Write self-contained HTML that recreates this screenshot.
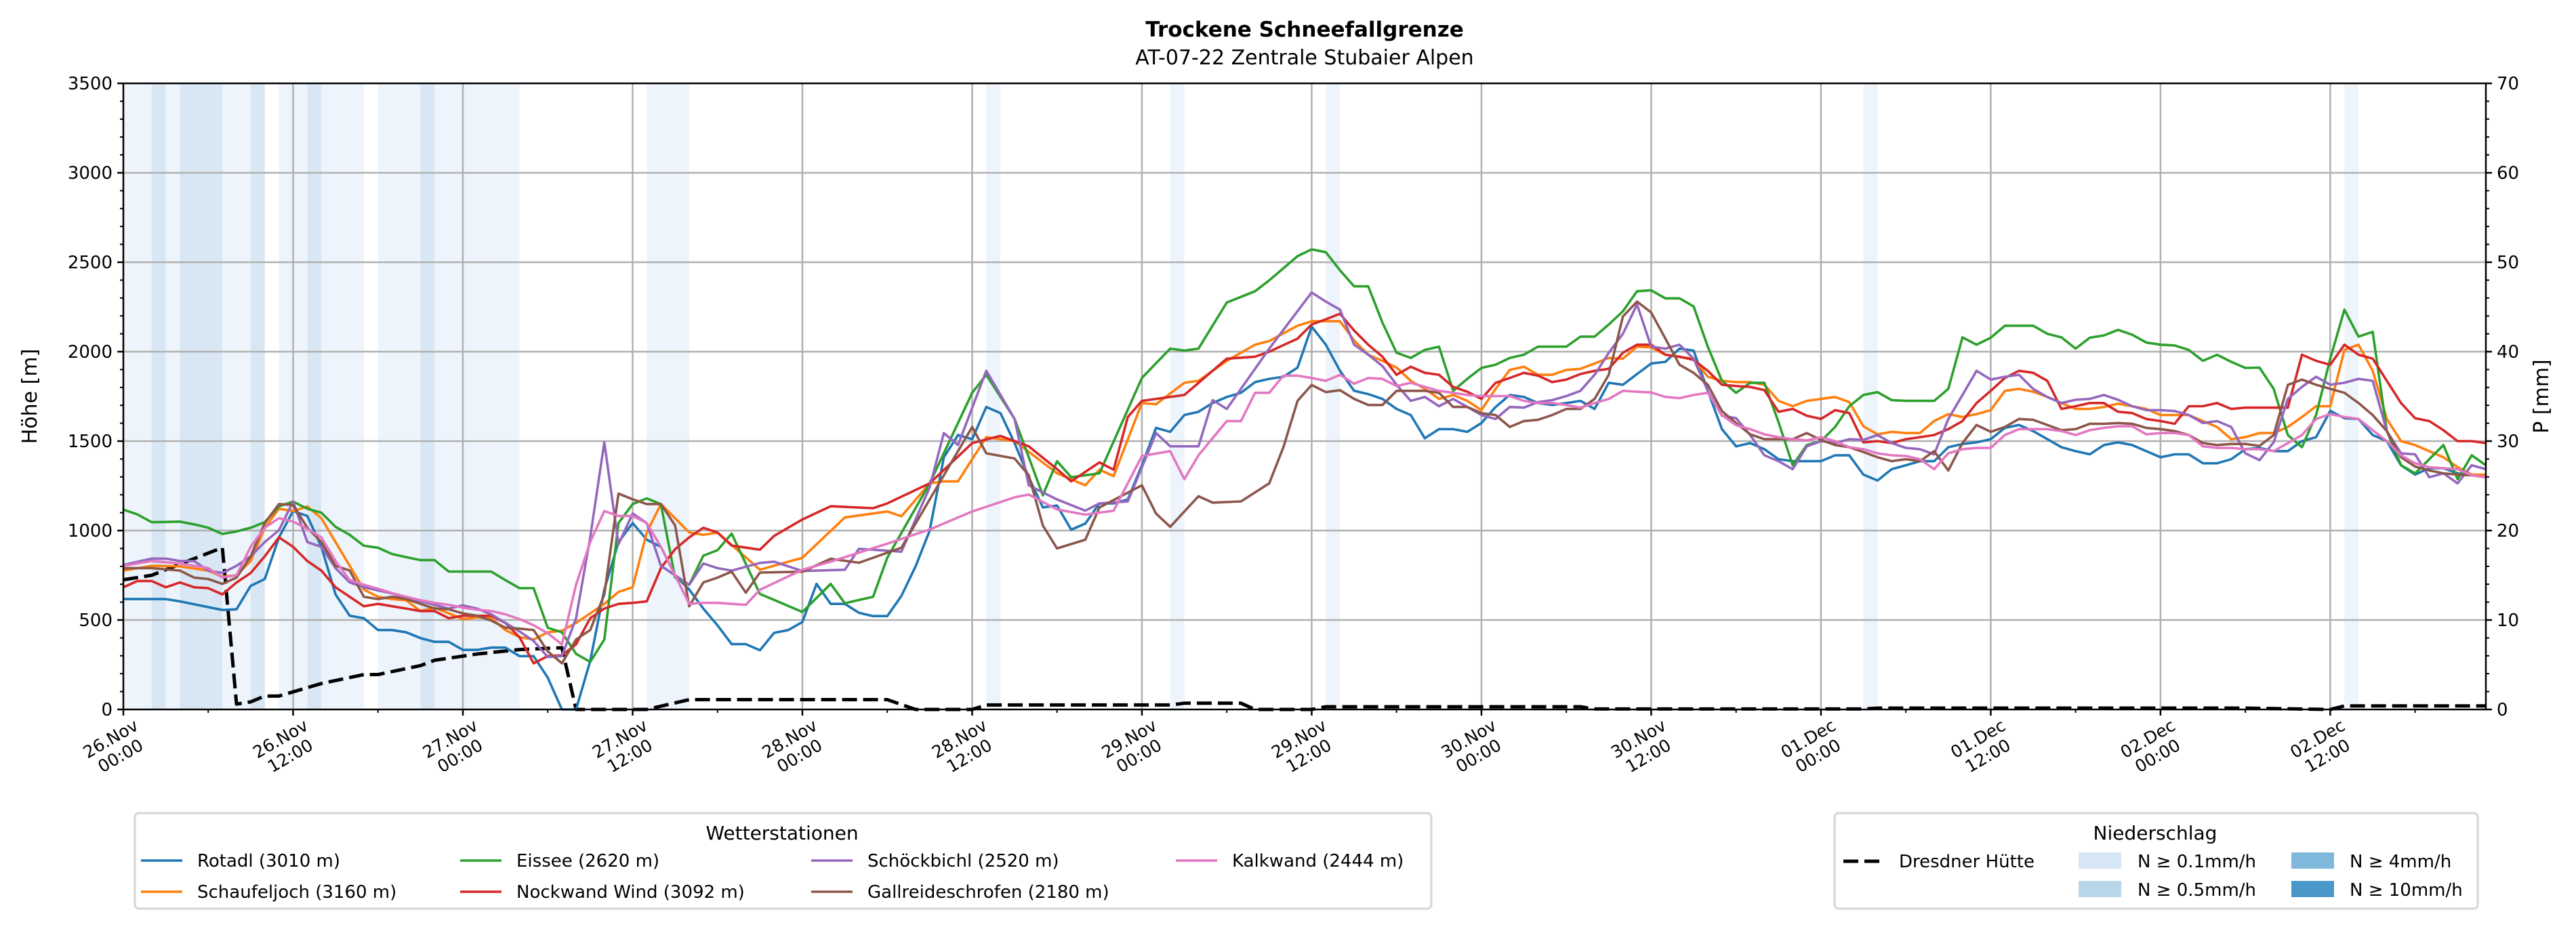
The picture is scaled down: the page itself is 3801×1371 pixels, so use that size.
<!DOCTYPE html>
<html><head><meta charset="utf-8"><style>
html,body{margin:0;padding:0;background:#fff;}
svg{display:block;font-family:"DejaVu Sans","Liberation Sans",sans-serif;}
</style></head><body>
<svg id="chart" width="3801" height="1371" viewBox="0 0 3801 1371" xmlns="http://www.w3.org/2000/svg">
<rect width="3801" height="1371" fill="#fff"/>
<g id="bands"></g>
<g id="grid"></g>
<g id="series"></g>
<g id="axes"></g>
<text x="1925" y="54" text-anchor="middle" font-size="31" font-weight="bold">Trockene Schneefallgrenze</text>
<text x="1925" y="95" text-anchor="middle" font-size="30">AT-07-22 Zentrale Stubaier Alpen</text>
<text transform="translate(54,585) rotate(-90)" text-anchor="middle" font-size="30">Höhe [m]</text>
<text transform="translate(3760,585) rotate(-90)" text-anchor="middle" font-size="30">P [mm]</text>
<g>
<rect x="199" y="1200" width="1913" height="141" rx="6" fill="#fff" stroke="#d5d5d5" stroke-width="3"/>
<text x="1154" y="1239" text-anchor="middle" font-size="28">Wetterstationen</text>
</g>
<g>
<rect x="2707" y="1200" width="949" height="141" rx="6" fill="#fff" stroke="#d5d5d5" stroke-width="3"/>
<text x="3180" y="1239" text-anchor="middle" font-size="28">Niederschlag</text>
<line x1="2720" y1="1271" x2="2780" y2="1271" stroke="#000" stroke-width="5" stroke-dasharray="22,9"/>
<text x="2802" y="1280" font-size="26">Dresdner Hütte</text>
<rect x="3067" y="1258" width="63" height="24" fill="#d6e6f4"/>
<text x="3154" y="1280" font-size="26">N ≥ 0.1mm/h</text>
<rect x="3067" y="1300" width="63" height="24" fill="#b9d5ea"/>
<text x="3154" y="1322" font-size="26">N ≥ 0.5mm/h</text>
<rect x="3381" y="1258" width="63" height="24" fill="#7fb8da"/>
<text x="3467" y="1280" font-size="26">N ≥ 4mm/h</text>
<rect x="3381" y="1300" width="63" height="24" fill="#4a97c9"/>
<text x="3467" y="1322" font-size="26">N ≥ 10mm/h</text>
</g>
<g id="legend"></g>
</svg>
<script>
const n=null;
const dayLabels=["26.Nov","26.Nov","27.Nov","27.Nov","28.Nov","28.Nov","29.Nov","29.Nov","30.Nov","30.Nov","01.Dec","01.Dec","02.Dec","02.Dec"];
const timeLabels=["00:00","12:00","00:00","12:00","00:00","12:00","00:00","12:00","00:00","12:00","00:00","12:00","00:00","12:00"];
const yTicks=[0,500,1000,1500,2000,2500,3000,3500];
const y2Ticks=[0,10,20,30,40,50,60,70];
const stationNames=["Rotadl (3010 m)","Schaufeljoch (3160 m)","Eissee (2620 m)","Nockwand Wind (3092 m)","Schöckbichl (2520 m)","Gallreideschrofen (2180 m)","Kalkwand (2444 m)"];
const stationColors=["#1f77b4","#ff7f0e","#2ca02c","#d62728","#9467bd","#8c564b","#e377c2"];
const precipHours=[0,1,2,3,4,5,6,7,8,9,11,12,13,14,15,16,18,19,20,21,22,23,24,25,26,27,37,38,39,61,74,85,123,157];
const precipValues=[0.2,0.2,0.7,0.2,0.7,0.7,0.7,0.2,0.2,0.7,0.2,0.2,0.7,0.2,0.2,0.2,0.2,0.2,0.2,0.7,0.2,0.2,0.2,0.2,0.2,0.2,0.2,0.2,0.2,0.2,0.2,0.2,0.2,0.2];
const dresdenHours=[0,2,7,8,9,10,11,14,17,18,21,22,25,28,31,32,37,40,54,56,60,61,74,75,79,80,84,85,103,104,123,124,150,156,157,167];
const dresdenP=[14.5,15,18.1,0.6,0.85,1.5,1.5,2.9,3.9,3.9,4.9,5.5,6.2,6.7,6.9,0,0,1.1,1.1,0,0,0.5,0.5,0.7,0.7,0,0,0.3,0.3,0.05,0.05,0.15,0.15,0,0.4,0.4];
const rotadl=[617,617,617,617,604,n,n,556,560,691,729,962,1109,1082,909,643,524,510,444,444,431,399,378,378,333,333,346,346,298,298,178,0,0,271,670,936,1042,949,909,750,670,564,470,
365,365,331,428,444,489,702,590,590,540,522,522,635,800,1000,1410,1534,1511,1691,1657,1489,1298,1129,1140,1005,1039,1152,1152,1174,1365,1574,1552,1646,1664,1713,1747,1770,1830,1848,1860,1911,
2140,2039,1893,1781,1763,1736,1680,1646,1516,1567,1567,1552,1601,1691,1758,1747,1713,1702,1713,1725,1680,1826,1815,1875,1934,1943,2017,2006,1781,1567,1471,1489,1455,1399,1388,1388,1388,1421,1421,1313,1280,1343,
1365,1388,1388,1466,1484,1493,1511,1574,1590,1556,1511,1466,1444,1426,1478,1493,1478,1444,1410,1426,1426,1376,1376,1399,1455,1462,1444,1444,1500,1522,1669,1628,1624,1534,1500,1365,1313,1349,1349,1320,1309,1298];
const schaufeljoch=[776,n,803,n,800,n,776,742,750,830,1016,1122,1109,1135,1069,936,803,670,630,617,610,550,569,537,505,515,510,444,404,391,431,440,484,537,590,657,683,989,1148,1069,989,976,989,
n,n,781,n,n,848,n,n,1073,n,n,1107,1080,n,1264,1275,1275,n,1522,n,1500,n,n,1320,n,1253,1340,1304,n,1713,1706,n,1826,1837,n,1949,n,2039,2060,n,2145,
2170,2170,2170,2062,1983,1949,1911,1837,1792,1736,1758,1725,1673,1792,1898,1916,1871,1871,1898,1904,1934,1965,1961,2028,2024,1983,1970,1961,1860,1837,1830,1830,1815,1725,1695,1725,1736,1747,1718,1583,1538,1552,
1545,1545,1612,1651,1635,1651,1673,1781,1792,1776,1747,1713,1680,1680,1691,1709,1695,1680,1646,1646,1646,1612,1579,1511,1522,1545,1545,1579,1635,1695,1695,2010,2039,1893,1624,1500,1478,1444,1410,1354,1313,1313];
const eissee=[1117,1090,1047,1048,1050,1035,1016,981,995,1016,1047,1135,1162,1122,1100,1021,976,915,904,869,851,835,835,771,771,771,771,723,678,678,457,431,311,266,391,1042,1148,1180,1148,737,697,860,890,
983,n,646,n,n,545,n,702,594,n,630,848,n,n,1264,n,n,1770,1871,n,1624,n,1197,1388,1298,n,1320,n,n,1853,n,2017,2006,2017,n,2275,n,2338,2399,n,2534,
2572,2556,2455,2365,2365,2163,1994,1965,2010,2028,1781,1848,1909,1927,1965,1983,2028,2028,2028,2084,2084,2152,2226,2338,2343,2298,2298,2253,2028,1837,1770,1826,1826,1606,1365,1478,1500,1579,1695,1758,1774,1729,
1725,1725,1725,1792,2080,2039,2078,2145,2145,2145,2100,2080,2017,2078,2091,2122,2095,2051,2039,2035,2010,1949,1983,1943,1909,1911,1792,1534,1466,1646,1961,2235,2084,2111,1556,1365,1320,1399,1478,1287,1421,1365];
const nockwand=[683,718,718,683,710,683,678,643,710,763,856,962,909,830,776,683,630,577,590,577,564,550,550,510,524,524,524,484,404,258,298,303,364,510,564,590,596,604,790,896,962,1016,989,
916,n,893,970,n,1062,n,1136,n,n,1125,1152,n,n,1264,n,n,1489,n,1529,n,1471,n,1343,1275,n,1381,1340,1635,1725,n,n,1758,n,n,1961,n,1972,2000,n,2073,
2152,2181,2212,2118,2039,1972,1871,1916,1882,1871,1803,1776,1736,1826,1853,1882,1866,1830,1844,1875,1893,1904,1994,2039,2039,1983,1972,1954,1893,1815,1808,1803,1785,1664,1680,1642,1624,1673,1657,1493,1500,1489,
1511,1522,1534,1567,1612,1713,1781,1853,1893,1882,1837,1680,1695,1713,1713,1664,1657,1624,1612,1597,1695,1695,1713,1680,1687,1687,1687,1687,1983,1949,1927,2039,1983,1961,1837,1713,1628,1612,1561,1500,1500,1489];
const schoeckbichl=[808,n,843,843,830,830,776,763,803,856,936,1002,1162,936,909,790,710,683,665,649,622,604,585,564,582,564,532,484,436,383,293,298,510,962,1494,923,1095,1042,803,750,697,816,790,
776,n,819,826,n,774,n,n,781,898,n,n,882,n,1242,1545,1478,n,1893,n,1624,1253,n,1174,n,1111,1152,n,1163,n,1545,1471,n,1471,1729,1680,n,n,2017,n,n,
2331,2280,2235,2039,1983,1920,1815,1725,1747,1695,1736,1691,1646,1624,1691,1687,1718,1729,1752,1781,1871,1994,2100,2264,2028,2017,2039,1961,1781,1642,1628,1534,1421,1388,1343,1471,1500,1489,1511,1507,1534,1489,
1462,1455,1426,1624,1758,1893,1844,1860,1871,1792,1747,1713,1731,1736,1758,1731,1695,1673,1673,1668,1646,1601,1612,1579,1432,1394,1493,1736,1803,1860,1815,1826,1848,1837,1556,1432,1426,1298,1320,1264,1365,1343];
const gallreide=[790,n,790,n,776,737,729,702,737,856,1042,1148,1143,1016,936,803,776,630,617,630,617,590,564,560,537,524,497,457,452,444,325,258,391,444,643,1207,1175,1148,1148,1029,577,710,737,
770,653,765,n,n,770,n,842,n,820,n,n,904,n,1174,n,n,1579,1432,n,1403,1309,1028,900,n,949,1129,n,n,1253,1095,1021,n,1192,1156,n,1163,n,1264,1466,1725,
1814,1774,1785,1736,1702,1702,1781,1781,1781,1770,1691,1691,1657,1646,1579,1612,1619,1646,1680,1680,1736,1871,2197,2280,2219,2073,1927,1882,1815,1668,1601,1538,1511,1511,1511,1545,1507,1478,1466,1439,1410,1388,
1399,1388,1444,1336,1489,1590,1552,1579,1624,1619,1590,1561,1567,1597,1597,1601,1597,1574,1567,1556,1534,1489,1478,1484,1484,1473,1534,1814,1844,1815,1792,1770,1713,1646,1556,1410,1358,1336,1320,1313,1309,1298];
const kalkwand=[803,n,830,n,816,n,790,737,750,909,1016,1069,1050,1010,962,830,723,697,675,650,630,611,596,585,569,558,550,532,505,471,426,364,697,936,1109,1082,1082,1042,909,750,590,596,596,
n,585,669,n,n,781,n,826,n,n,n,927,n,n,1006,n,n,1107,n,n,1186,1201,n,1118,n,1089,n,1111,n,1417,n,1444,1287,1421,n,1612,1612,1770,1770,1866,1866,
1853,1837,1871,1821,1853,1848,1808,1826,1803,1781,1770,1758,1752,1752,1752,1725,1713,1713,1702,1687,1713,1736,1781,1776,1772,1747,1740,1758,1770,1646,1589,1567,1538,1522,1511,1504,1522,1500,1466,1455,1432,1421,
1417,1399,1343,1432,1455,1462,1462,1534,1567,1567,1567,1556,1534,1561,1574,1583,1583,1538,1545,1545,1534,1471,1462,1462,1455,1455,1444,1489,1534,1624,1651,1635,1624,1561,1500,1421,1376,1354,1349,1343,1309,1298];

const NS="http://www.w3.org/2000/svg";
const L=182,R=3668,T=123,B=1047,HMAX=167,YMAX=3500,PMAX=70;
function X(h){return L+h*(R-L)/HMAX;}
function Y(v){return B-v*(B-T)/YMAX;}
function Y2(p){return B-p*(B-T)/PMAX;}
function mk(tag,attrs,parent){const e=document.createElementNS(NS,tag);for(const k in attrs)e.setAttribute(k,attrs[k]);parent.appendChild(e);return e;}
const gB=document.getElementById('bands'),gG=document.getElementById('grid'),gS=document.getElementById('series'),gA=document.getElementById('axes'),gL=document.getElementById('legend');
const hw=(R-L)/HMAX;
precipHours.forEach((h,i)=>{
  const v=precipValues[i];
  const col=v>=10?'#4a97c9':v>=4?'#7fb8da':v>=0.5?'#d8e7f3':'#eef4fb';
  const r=mk('rect',{x:X(h),y:T,width:Math.min(hw,R-X(h)),height:B-T,fill:col},gB);
  
  
});
yTicks.forEach(v=>{if(v>0&&v<YMAX){mk('line',{x1:L,x2:R,y1:Y(v),y2:Y(v),stroke:'#b0b0b0','stroke-width':2.5},gG);}});
dayLabels.forEach((d,i)=>{const h=i*12;if(h>0){mk('line',{x1:X(h),x2:X(h),y1:T,y2:B,stroke:'#b0b0b0','stroke-width':2.5},gG);}});
function drawLine(vals,hours,color,w,dash,yf,name){
  let d='';let first=true;
  vals.forEach((v,i)=>{if(v===null)return;const h=hours?hours[i]:i;d+=(first?'M':'L')+X(h).toFixed(1)+','+yf(v).toFixed(1);first=false;});
  const p=mk('path',{d:d,fill:'none',stroke:color,'stroke-width':w,'stroke-linejoin':'round'},gS);
  if(dash)p.setAttribute('stroke-dasharray',dash);
  
  
}
drawLine(dresdenP,dresdenHours,'#000',5,'22,9',Y2,'dresdner-huette-line');
const seriesList=[rotadl,schaufeljoch,eissee,nockwand,schoeckbichl,gallreide,kalkwand];
seriesList.forEach((s,i)=>drawLine(s,null,stationColors[i],3.6,null,Y,'station-line-'+i));
mk('rect',{x:L,y:T,width:R-L,height:B-T,fill:'none',stroke:'#000','stroke-width':2.5},gA);
yTicks.forEach(v=>{
  mk('line',{x1:L-9,x2:L,y1:Y(v),y2:Y(v),stroke:'#000','stroke-width':2.5},gA);
  const t=mk('text',{x:L-16,y:Y(v)+9,'text-anchor':'end','font-size':26},gA);t.textContent=v;
  
  
});
for(let v=0;v<=YMAX;v+=100){mk('line',{x1:L-5,x2:L,y1:Y(v),y2:Y(v),stroke:'#000','stroke-width':2},gA);}
y2Ticks.forEach(p=>{
  mk('line',{x1:R,x2:R+9,y1:Y2(p),y2:Y2(p),stroke:'#000','stroke-width':2.5},gA);
  const t=mk('text',{x:R+16,y:Y2(p)+9,'font-size':26},gA);t.textContent=p;
  
  
});
for(let p=0;p<=PMAX;p+=2){mk('line',{x1:R,x2:R+5,y1:Y2(p),y2:Y2(p),stroke:'#000','stroke-width':2},gA);}
for(let h=6;h<=HMAX;h+=12){mk('line',{x1:X(h),x2:X(h),y1:B,y2:B+5,stroke:'#000','stroke-width':2},gA);}
dayLabels.forEach((d,i)=>{
  const h=i*12,x=X(h);
  mk('line',{x1:x,x2:x,y1:B,y2:B+9,stroke:'#000','stroke-width':2.5},gA);
  const t=mk('text',{transform:'translate('+(x+14)+','+(B+32)+') rotate(-30)','text-anchor':'middle','font-size':25},gA);
  
  
  const a=mk('tspan',{x:-34,y:2},t);a.textContent=d;
  const b=mk('tspan',{x:-34,y:31},t);b.textContent=timeLabels[i];
});
const colX=[208,679,1197,1735];
stationNames.forEach((nm,i)=>{
  const col=Math.floor(i/2),row=i%2;
  const x=colX[col],y=row?1316:1270;
  const ln=mk('line',{x1:x,x2:x+61,y1:y,y2:y,stroke:stationColors[i],'stroke-width':3.6},gL);
  
  
  const t=mk('text',{x:x+83,y:y+9,'font-size':26},gL);t.textContent=nm;
  
  
});
</script>
</body></html>
